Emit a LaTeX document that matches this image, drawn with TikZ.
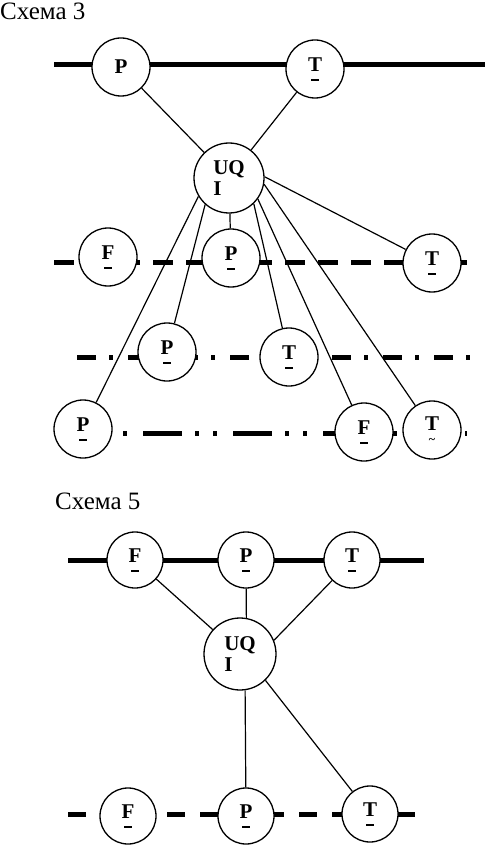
\documentclass[tikz,border=0pt]{standalone}
\usepackage{fontspec}
\setmainfont{Liberation Serif}
\newcommand{\mrk}[2]{\vbox{\offinterlineskip\halign{\hfil##\hfil\cr#1\cr\noalign{\kern8pt}#2\cr}}}
\newcommand{\ubar}[1]{\mrk{#1}{\rule{8pt}{1.3pt}}}
\newcommand{\uwave}[1]{\mrk{#1}{\fontsize{12}{12}\selectfont\textasciitilde}}
\begin{document}
\begin{tikzpicture}[x=1pt,y=-1pt,
  ring/.style={circle,draw,line width=1.3pt,fill=white,inner sep=0pt,minimum size=58pt,font=\bfseries\fontsize{21}{21}\selectfont},
  hub/.style={ring,minimum size=70pt,align=left},
  link/.style={line width=1.2pt},
  rail/.style={line width=5pt},
  heading/.style={anchor=base west,inner sep=0pt,font=\fontsize{25}{28}\selectfont}]
\useasboundingbox (0,0) rectangle (485,850);
\begin{scope}
\node[heading] (s3) at (0,20) {Схема 3};
\draw[rail] (54,65) -- (485,65);
\draw[rail,dash pattern=on 20pt off 13pt] (54,262) -- (467,262);
\draw[rail,dash pattern=on 19pt off 13pt on 4pt off 15pt] (77,357) -- (473,357);
\draw[rail,dash pattern=on 39pt off 13pt on 4pt off 14pt on 4pt off 16pt,dash phase=70pt] (123,433) -- (467,433);
\node[ring] (p1) at (121,67) {P};
\node[ring] (t1) at (315,69) {\ubar{T}};
\node[hub] (u1) at (229,178) {UQ\\I};
\node[ring] (f2) at (108,257) {\ubar{F}};
\node[ring] (p2) at (231,258) {\ubar{P}};
\node[ring] (t2) at (432,263) {\ubar{T}};
\node[ring] (p3) at (167,352) {\ubar{P}};
\node[ring] (t3) at (289,357) {\ubar{T}};
\node[ring] (p4) at (83,429) {\ubar{P}};
\node[ring] (f4) at (364,432) {\ubar{F}};
\node[ring] (t4) at (432,430) {\uwave{T}};
\draw[link] (p1) -- (u1);
\draw[link] (t1) -- (u1);
\draw[link] (u1) -- (p2);
\foreach \a/\n in {2/t2, 228/p3, 314/t3, 211/p4, 324/f4, 350/t4} {
\draw[link] (u1.\a) -- (\n);
}
\end{scope}
\begin{scope}[ring/.append style={minimum size=56pt},hub/.append style={minimum size=72pt}]
\node[heading] (s5) at (55,509) {Схема 5};
\draw[rail] (68,560) -- (424,560);
\draw[rail,dash pattern=on 18pt off 15pt] (68,814) -- (415,814);
\node[ring] (f5) at (135,560) {\ubar{F}};
\node[ring] (p5) at (246,560) {\ubar{P}};
\node[ring] (t5) at (352,560) {\ubar{T}};
\node[hub] (u5) at (240,654) {UQ\\I};
\node[ring] (f6) at (128,816) {\ubar{F}};
\node[ring] (p6) at (246,816) {\ubar{P}};
\node[ring] (t6) at (370,814) {\ubar{T}};
\draw[link] (f5) -- (u5);
\draw[link] (p5) -- (u5.80);
\draw[link] (t5) -- (u5.22);
\draw[link] (u5.278) -- (p6);
\draw[link] (u5.314) -- (t6);
\end{scope}
\end{tikzpicture}
\end{document}
